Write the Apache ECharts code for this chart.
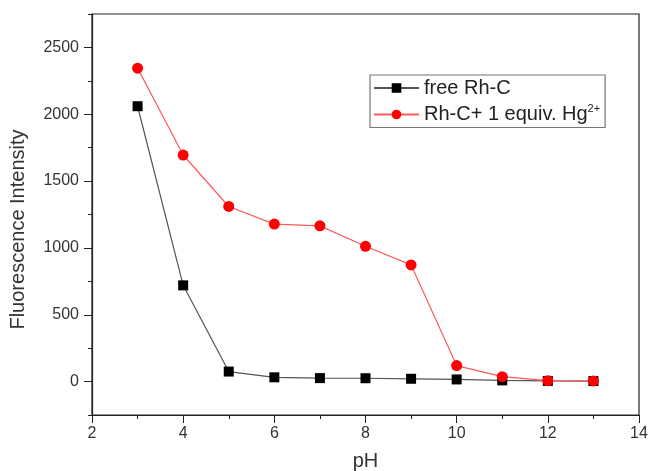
<!DOCTYPE html>
<html>
<head>
<meta charset="utf-8">
<script src="https://cdn.jsdelivr.net/npm/echarts@6/dist/echarts.min.js"></script>
<style>html,body{margin:0;padding:0;background:#fff}#c{width:648px;height:471px}</style>
</head>
<body>
<div id="c"></div>
<script>
const pH = [3, 4, 5, 6, 7, 8, 9, 10, 11, 12, 13];
const freeRhC = [2060, 720, 75, 32, 26, 25, 21, 16, 9, 5, 4];
const rhcHg = [2345, 1695, 1310, 1178, 1165, 1012, 873, 120, 37, 7, 5];
const seriesNames = ['free Rh-C', 'Rh-C+ 1 equiv. Hg2+'];
const xTicks = [2, 4, 6, 8, 10, 12, 14];
const yTicks = [0, 500, 1000, 1500, 2000, 2500];

const chart = echarts.init(document.getElementById('c'));
const font = 'Liberation Sans, Arial, sans-serif';
const axisCol = '#222';
const lblCol = '#333';
chart.setOption({
  animation: false,
  grid: { left: 92, right: 9, top: 14, bottom: 56, show: true, borderColor: axisCol, borderWidth: 1.2,
    outerBoundsMode: 'none', containLabel: false },
  legend: {
    orient: 'vertical', left: 370, top: 75,
    borderColor: '#777', borderWidth: 1.2, padding: [3, 5, 3, 3],
    itemWidth: 45, itemHeight: 12, itemGap: 5,
    formatter: function (n) {
      if (n === seriesNames[1]) return 'Rh-C+ 1 equiv. Hg{sup|2+}';
      return n;
    },
    textStyle: {
      fontFamily: font, fontSize: 20, color: '#222',
      rich: { sup: { fontSize: 11, verticalAlign: 'top', padding: [0, 0, 12, 0], fontFamily: font, color: '#222' } }
    },
    data: seriesNames
  },
  xAxis: [{
    type: 'value', min: 2, max: 14,
    name: 'pH', nameLocation: 'middle', nameGap: 36,
    nameTextStyle: { fontFamily: font, fontSize: 20, color: lblCol },
    axisLine: { onZero: false, lineStyle: { color: axisCol, width: 1.2 } },
    axisTick: { length: 8, customValues: xTicks, lineStyle: { color: axisCol } },
    axisLabel: { fontFamily: font, fontSize: 16, color: lblCol, margin: 11, customValues: xTicks,
      formatter: v => String(v) },
    splitLine: { show: false }
  }, {
    type: 'value', min: 2, max: 14, interval: 1, position: 'bottom',
    axisLine: { show: false, onZero: false },
    axisTick: { length: 4, lineStyle: { color: axisCol } },
    axisLabel: { show: false }, splitLine: { show: false }
  }],
  yAxis: [{
    type: 'value', min: -250, max: 2750,
    name: 'Fluorescence Intensity', nameLocation: 'middle', nameGap: 64,
    nameTextStyle: { fontFamily: font, fontSize: 20, color: lblCol, padding: [0, 30, 0, 0] },
    axisLine: { show: true, onZero: false, lineStyle: { color: axisCol, width: 1.2 } },
    axisTick: { show: true, length: 8, customValues: yTicks, lineStyle: { color: axisCol } },
    axisLabel: { fontFamily: font, fontSize: 16, color: lblCol, margin: 13, customValues: yTicks,
      formatter: v => String(v) },
    splitLine: { show: false }
  }, {
    type: 'value', min: -250, max: 2750, interval: 250, position: 'left',
    axisLine: { show: false, onZero: false },
    axisTick: { show: true, length: 4, lineStyle: { color: axisCol } },
    axisLabel: { show: false }, splitLine: { show: false }
  }],
  series: [
    {
      name: seriesNames[0], type: 'line',
      data: pH.map((x, i) => [x, freeRhC[i]]),
      symbol: 'rect', symbolSize: 10,
      itemStyle: { color: '#000' },
      lineStyle: { color: '#555', width: 1.2 }
    },
    {
      name: seriesNames[1], type: 'line',
      data: pH.map((x, i) => [x, rhcHg[i]]),
      symbol: 'circle', symbolSize: 11,
      itemStyle: { color: '#ff0000' },
      lineStyle: { color: '#ff5a5a', width: 1.2 }
    }
  ]
});
</script>
</body>
</html>
